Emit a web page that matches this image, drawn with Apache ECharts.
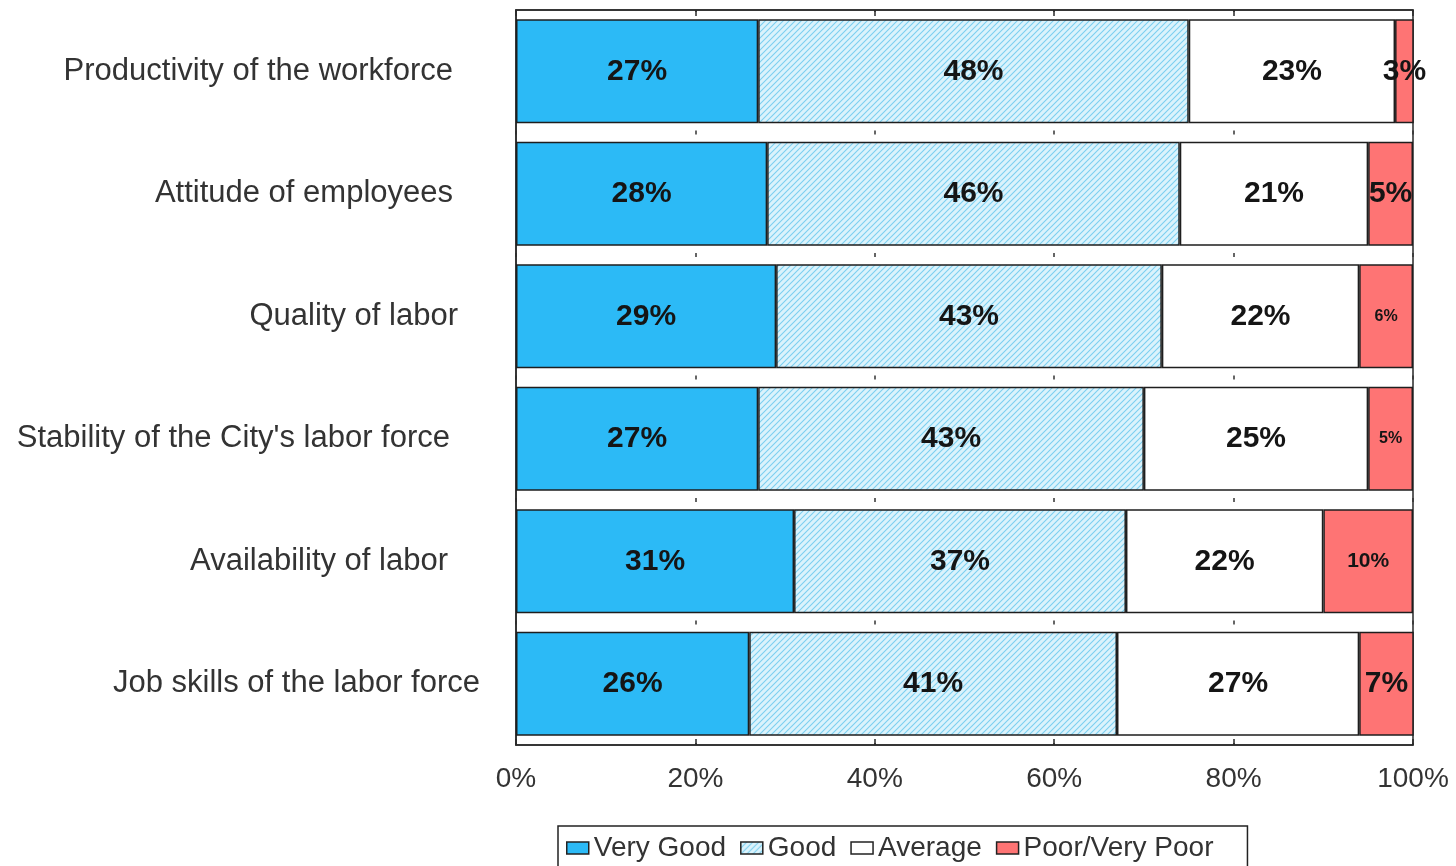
<!DOCTYPE html>
<html>
<head>
<meta charset="utf-8">
<script src="https://cdn.jsdelivr.net/npm/echarts@6/dist/echarts.min.js"></script>
<style>
  html, body { margin: 0; padding: 0; background: #ffffff; }
  #chart { width: 1456px; height: 866px; }
</style>
</head>
<body>
<div id="chart"></div>
<script>
// Survey ratings of the labor force (percent of respondents)
const categories = [
  'Productivity of the workforce',
  'Attitude of employees',
  'Quality of labor',
  "Stability of the City's labor force",
  'Availability of labor',
  'Job skills of the labor force'
];
const seriesNames = ['Very Good', 'Good', 'Average', 'Poor/Very Poor'];
const veryGood = [27, 28, 29, 27, 31, 26];
const good     = [48, 46, 43, 43, 37, 41];
const average  = [23, 21, 22, 25, 22, 27];
const poor     = [3, 5, 6, 5, 10, 7];
const xTicks = [0, 20, 40, 60, 80, 100];

// styling per row: label size for the narrow Poor/Very Poor segments,
// and right padding of each category label
const poorLabelSize = [30, 30, 16, 16, 21, 30];
const catLabelPad = [27, 27, 22, 30, 32, 0];

const FONT = 'Liberation Sans, Arial, sans-serif';

// diagonal hatch fill for the "Good" segments
function hatch() {
  const c = document.createElement('canvas');
  c.width = 6; c.height = 6;
  const g = c.getContext('2d');
  g.fillStyle = '#dbf3fc';
  g.fillRect(0, 0, 6, 6);
  g.strokeStyle = '#7ccff0';
  g.lineWidth = 1.1;
  g.beginPath();
  g.moveTo(0, 6); g.lineTo(6, 0);
  g.moveTo(-1, 1); g.lineTo(1, -1);
  g.moveTo(5, 7); g.lineTo(7, 5);
  g.stroke();
  return c;
}

const chart = echarts.init(document.getElementById('chart'), null, { renderer: 'canvas' });
const border = { borderColor: '#1e1e1e', borderWidth: 1.5 };
const labelBase = {
  show: true, position: 'inside', color: '#151515',
  fontFamily: FONT, fontWeight: 'bold', fontSize: 30,
  formatter: p => p.value + '%'
};

function series(name, data, color, sizes) {
  return {
    name, type: 'bar', stack: 'total', barCategoryGap: '15%',
    itemStyle: Object.assign({ color }, border),
    label: labelBase,
    data: data.map((v, i) => sizes ? { value: v, label: { fontSize: sizes[i] } } : v)
  };
}

const axisCommon = {
  type: 'value', min: xTicks[0], max: xTicks[xTicks.length - 1], interval: 20,
  axisLine: { show: true, lineStyle: { color: '#2a2a2a', width: 1.5 } },
  axisTick: { show: true, inside: true, length: 6, lineStyle: { color: '#2a2a2a', width: 1.5 } }
};

chart.setOption({
  animation: false,
  backgroundColor: '#ffffff',
  grid: { left: 516, right: 43, top: 10, bottom: 121, show: true, borderColor: '#2a2a2a', borderWidth: 1.5 },
  legend: {
    data: seriesNames,
    icon: 'rect',
    left: 558, top: 826,
    itemWidth: 22, itemHeight: 12, itemGap: 14,
    padding: [8, 34, 8, 8],
    borderColor: '#222', borderWidth: 1.5,
    textStyle: { fontFamily: FONT, fontSize: 28, color: '#333' },
    itemStyle: { borderColor: '#222', borderWidth: 1.5 }
  },
  xAxis: [Object.assign({}, axisCommon, {
    axisLabel: { formatter: '{value}%', fontSize: 28, color: '#333', margin: 20, fontFamily: FONT },
    splitLine: { show: true, lineStyle: { color: '#333', width: 1.5, type: [4, 118.5], dashOffset: 2 } }
  }), Object.assign({}, axisCommon, {
    position: 'top', axisLabel: { show: false }, splitLine: { show: false }
  })],
  yAxis: {
    type: 'category', inverse: true,
    data: categories.map((c, i) => ({ value: c, textStyle: { padding: [0, catLabelPad[i], 0, 0] } })),
    axisLine: { show: true, lineStyle: { color: '#2a2a2a', width: 1.5 } },
    axisTick: { show: false },
    axisLabel: { fontSize: 31, color: '#333', margin: 36, fontFamily: FONT }
  },
  series: [
    series(seriesNames[0], veryGood, '#2cbaf6'),
    series(seriesNames[1], good, { image: hatch(), repeat: 'repeat' }),
    series(seriesNames[2], average, '#ffffff'),
    series(seriesNames[3], poor, '#fe7474', poorLabelSize)
  ]
});
</script>
</body>
</html>
